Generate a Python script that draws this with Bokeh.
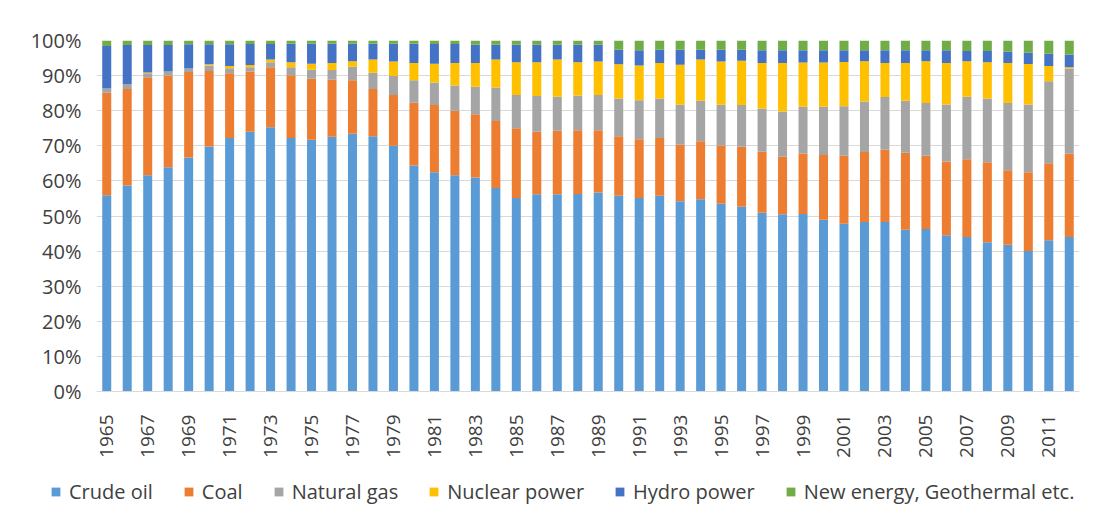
import math
from bokeh.plotting import figure
from bokeh.models import ColumnDataSource, Legend, LegendItem, FixedTicker, Range1d
from bokeh.embed import file_html
from bokeh.resources import INLINE

years = list(range(1965, 2013))

crude_oil = [55.9, 58.7, 61.6, 63.9, 66.7, 69.8, 72.2, 74.0, 75.3, 72.2,
             71.7, 72.6, 73.4, 72.7, 70.0, 64.4, 62.5, 61.6, 61.0, 58.0,
             55.1, 56.2, 56.2, 56.3, 56.7, 55.8, 55.1, 55.8, 54.2, 54.8,
             53.5, 52.6, 50.9, 50.5, 50.6, 48.9, 47.8, 48.3, 48.3, 46.1,
             46.3, 44.5, 44.0, 42.5, 41.8, 40.0, 43.1, 44.0]
coal = [29.2, 27.5, 27.9, 26.1, 24.3, 21.5, 18.5, 17.2, 17.1, 17.9,
        17.4, 16.2, 15.3, 13.5, 14.5, 17.9, 19.1, 18.4, 18.0, 19.1,
        19.9, 17.8, 18.1, 18.1, 17.7, 16.9, 16.8, 16.4, 16.1, 16.5,
        16.6, 17.1, 17.4, 16.4, 17.2, 18.5, 19.4, 19.9, 20.6, 21.9,
        20.9, 21.0, 22.2, 22.8, 21.2, 22.5, 21.9, 23.7]
natural_gas = [1.2, 1.4, 1.2, 1.2, 1.0, 1.6, 1.4, 1.2, 1.4, 2.3,
               2.6, 2.8, 3.8, 4.6, 5.4, 6.4, 6.4, 7.2, 7.8, 9.5,
               9.5, 10.2, 9.7, 9.9, 10.1, 10.8, 11.1, 11.3, 11.4, 11.5,
               11.6, 11.9, 12.3, 12.9, 13.3, 13.7, 14.1, 14.4, 15.0, 14.8,
               15.0, 16.3, 17.8, 18.2, 19.2, 19.3, 23.4, 24.3]
nuclear_power = [0.0, 0.0, 0.2, 0.0, 0.0, 0.3, 0.6, 0.6, 0.8, 1.4,
                 1.7, 2.0, 1.6, 3.8, 4.1, 4.9, 5.4, 6.4, 6.8, 8.0,
                 9.3, 9.6, 10.6, 9.5, 9.5, 9.7, 9.9, 10.1, 11.4, 11.8,
                 12.3, 12.6, 13.0, 13.8, 12.6, 12.6, 12.6, 11.5, 9.7, 10.8,
                 11.9, 11.8, 10.1, 10.3, 11.4, 11.5, 4.3, 0.4]
hydro_power = [12.1, 11.1, 7.8, 7.5, 6.9, 5.7, 6.2, 6.0, 4.4, 5.3,
               5.7, 5.5, 5.0, 4.5, 5.1, 5.5, 5.6, 5.4, 5.2, 4.2,
               5.0, 5.0, 4.2, 5.0, 4.8, 4.2, 4.3, 3.8, 4.3, 2.8,
               3.4, 3.2, 3.6, 3.6, 3.5, 3.5, 3.3, 3.1, 3.6, 3.6,
               3.1, 3.6, 2.9, 3.2, 3.2, 3.2, 3.5, 3.6]
new_energy = [1.6, 1.3, 1.3, 1.3, 1.1, 1.1, 1.1, 1.0, 1.0, 0.9,
              0.9, 0.9, 0.9, 0.9, 0.9, 0.9, 1.0, 1.0, 1.2, 1.2,
              1.2, 1.2, 1.2, 1.2, 1.2, 2.6, 2.8, 2.6, 2.6, 2.6,
              2.6, 2.6, 2.8, 2.8, 2.8, 2.8, 2.8, 2.8, 2.8, 2.8,
              2.8, 2.8, 3.0, 3.0, 3.2, 3.5, 3.8, 4.0]

series_names = ["Crude oil", "Coal", "Natural gas", "Nuclear power",
                "Hydro power", "New energy, Geothermal etc."]
series_values = [crude_oil, coal, natural_gas, nuclear_power, hydro_power, new_energy]
colors = ["#5B9BD5", "#ED7D31", "#A5A5A5", "#FFC000", "#4472C4", "#70AD47"]
y_ticks = list(range(0, 101, 10))
x_ticks = list(range(1965, 2012, 2))

keys = ["s%d" % i for i in range(len(series_names))]
data = {"year": years}
for k, v in zip(keys, series_values):
    data[k] = v
source = ColumnDataSource(data)

FONT = "Open Sans"
TXT = "#404040"

p = figure(width=1091, height=471, output_backend="svg", toolbar_location=None,
           x_range=(years[0] - 0.5, years[-1] + 0.5), y_range=(0, 100),
           min_border_left=96, min_border_right=12, min_border_top=40,
           min_border_bottom=80)
p.outline_line_color = None
p.background_fill_color = "white"
p.border_fill_color = "white"

renderers = p.vbar_stack(keys, x="year", width=0.44, color=colors,
                         source=source, line_color=None)

p.xgrid.grid_line_color = None
p.ygrid.grid_line_color = "#D9D9D9"
p.ygrid.grid_line_width = 1
p.ygrid.ticker = FixedTicker(ticks=y_ticks)

p.yaxis.ticker = FixedTicker(ticks=y_ticks)
p.yaxis.major_label_overrides = {t: "%d%%" % t for t in y_ticks}
p.yaxis.axis_line_color = None
p.yaxis.major_tick_line_color = None
p.yaxis.minor_tick_line_color = None
p.yaxis.major_label_text_font = FONT
p.yaxis.major_label_text_font_size = "20px"
p.yaxis.major_label_text_color = TXT
p.yaxis.major_label_standoff = 9

p.xaxis.ticker = FixedTicker(ticks=x_ticks)
p.xaxis.axis_line_color = "#D9D9D9"
p.xaxis.major_tick_line_color = None
p.xaxis.minor_tick_line_color = None
p.xaxis.major_label_orientation = math.pi / 2
p.xaxis.major_label_text_font = FONT
p.xaxis.major_label_text_font_size = "19px"
p.xaxis.major_label_text_color = TXT
p.xaxis.major_label_standoff = 17

# legend panel (a second root below the chart)
lg = figure(width=1091, height=51, output_backend="svg", toolbar_location=None,
            x_range=Range1d(0, 1), y_range=Range1d(0, 1),
            x_axis_type=None, y_axis_type=None,
            min_border_left=0, min_border_right=0, min_border_top=0,
            min_border_bottom=0)
lg.outline_line_color = None
lg.xgrid.grid_line_color = None
lg.ygrid.grid_line_color = None
lg.border_fill_color = "white"

items = []
for n, c in zip(series_names, colors):
    r = lg.vbar(x=[-5], top=[-5], bottom=[-6], width=0.1, color=c, line_color=None)
    items.append(LegendItem(label=n, renderers=[r]))
legend = Legend(items=items, orientation="horizontal", location=(50, 17),
                label_text_font=FONT, label_text_font_size="20px",
                label_text_color=TXT, glyph_width=11, glyph_height=11,
                label_standoff=8, spacing=30, padding=0, margin=0,
                border_line_color=None, background_fill_alpha=0)
lg.add_layout(legend, "center")

open("out.html", "w").write(file_html([p, lg], INLINE))
